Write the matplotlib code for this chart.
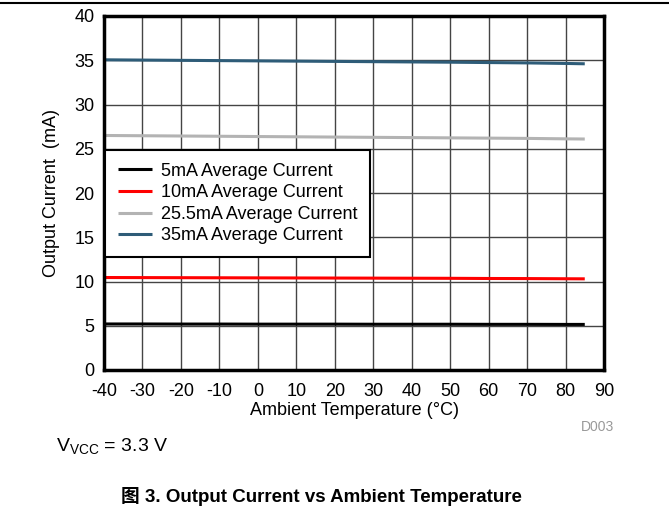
import matplotlib.pyplot as plt
from matplotlib.lines import Line2D

# temperature points (deg C)
temps = [-40, -30, -20, -10, 0, 10, 20, 30, 40, 50, 60, 70, 80, 85]

# measured average output currents (mA)
i_5 = [5.20, 5.20, 5.19, 5.19, 5.18, 5.18, 5.18, 5.17, 5.17, 5.17, 5.16, 5.16, 5.15, 5.15]
i_10 = [10.45, 10.44, 10.43, 10.42, 10.41, 10.40, 10.39, 10.38, 10.37, 10.36, 10.34, 10.33, 10.31, 10.30]
i_25 = [26.50, 26.47, 26.44, 26.41, 26.38, 26.35, 26.32, 26.29, 26.26, 26.23, 26.20, 26.17, 26.12, 26.10]
i_35 = [35.05, 35.02, 34.99, 34.96, 34.93, 34.90, 34.87, 34.84, 34.81, 34.78, 34.74, 34.70, 34.64, 34.60]

labels = ['5mA Average Current', '10mA Average Current',
          '25.5mA Average Current', '35mA Average Current']
colors = ['#000000', '#ff0000', '#b3b3b3', '#2e5c78']

xticks = list(range(-40, 91, 10))
yticks = list(range(0, 41, 5))

plt.rcParams['font.family'] = ['Liberation Sans', 'DejaVu Sans']
fs = 13

fig = plt.figure(figsize=(6.69, 5.08), dpi=100)
ax = fig.add_axes([104 / 669, 1 - 370 / 508, 500 / 669, 354 / 508])

for ys, lab, c in zip([i_5, i_10, i_25, i_35], labels, colors):
    ax.plot(temps, ys, color=c, lw=2.2, label=lab, solid_capstyle='butt')

ax.set_xlim(-40, 90)
ax.set_ylim(0, 40)
ax.set_xticks(xticks)
ax.set_yticks(yticks)
ax.set_xticklabels([str(t) for t in xticks])
ax.tick_params(axis='x', length=0, labelsize=fs, pad=9)
ax.tick_params(axis='y', length=0, labelsize=fs, pad=7)
ax.grid(True, color='#444444', lw=1)
ax.set_axisbelow(True)
for s in ax.spines.values():
    s.set_linewidth(2.5)

ax.set_xlabel('Ambient Temperature (°C)', fontsize=fs, labelpad=2)
ax.set_ylabel('Output Current  (mA)', fontsize=fs, labelpad=10)

leg = ax.legend(loc='upper left', bbox_to_anchor=(0.002, 0.621), borderaxespad=0,
                fontsize=fs, fancybox=False, framealpha=1, edgecolor='black',
                handlelength=1.9, handletextpad=0.5, labelspacing=0.25,
                borderpad=0.7)
leg.get_frame().set_linewidth(1.5)

fig.text(597 / 669, 1 - 427 / 508, 'D003', color='#999999', fontsize=10,
         ha='center', va='center')
fig.text(56 / 669, 1 - 447 / 508, r'V$_{\mathregular{VCC}}$ = 3.3 V', fontsize=14,
         ha='left', va='center')
fig.text(321 / 669, 1 - 496 / 508, '图 3. Output Current vs Ambient Temperature',
         fontsize=13.5, fontweight='bold', ha='center', va='center',
         family=['Liberation Sans', 'Noto Sans CJK SC'])

fig.add_artist(Line2D([0, 1], [1 - 3 / 508, 1 - 3 / 508], color='black', lw=1.5))

fig.savefig('out.png', dpi=100)
